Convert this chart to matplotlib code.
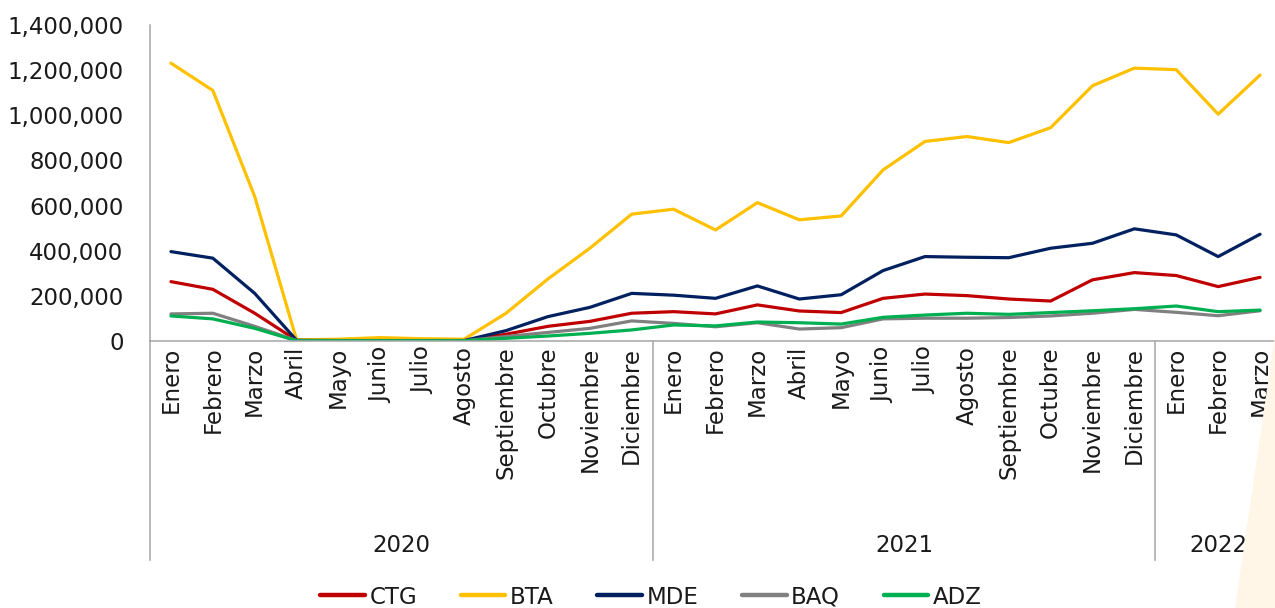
import matplotlib
matplotlib.use("Agg")
import matplotlib.pyplot as plt
from matplotlib.patches import Polygon
from matplotlib.ticker import FuncFormatter
import matplotlib.transforms as mtrans

months = ["Enero", "Febrero", "Marzo", "Abril", "Mayo", "Junio", "Julio", "Agosto",
          "Septiembre", "Octubre", "Noviembre", "Diciembre",
          "Enero", "Febrero", "Marzo", "Abril", "Mayo", "Junio", "Julio", "Agosto",
          "Septiembre", "Octubre", "Noviembre", "Diciembre",
          "Enero", "Febrero", "Marzo"]
years = ["2020", "2021", "2022"]
year_counts = [12, 12, 3]

CTG = [263000, 229000, 123000, 3000, 2000, 2000, 2000, 2000, 30000, 65000, 87000, 123000,
       130000, 120000, 160000, 133000, 126000, 189000, 208000, 201000, 186000, 177000, 271000, 303000,
       290000, 241000, 282000]
BTA = [1231000, 1110000, 640000, 5000, 8000, 15000, 10000, 8000, 123000, 275000, 411000, 562000,
       584000, 492000, 613000, 537000, 554000, 758000, 884000, 906000, 879000, 945000, 1131000, 1209000,
       1202000, 1005000, 1178000]
MDE = [396000, 367000, 211000, 3000, 2000, 2000, 2000, 2000, 46000, 108000, 149000, 211000,
       203000, 189000, 244000, 186000, 205000, 312000, 374000, 371000, 369000, 411000, 433000, 497000,
       470000, 374000, 473000]
BAQ = [120000, 123000, 65000, 2000, 1000, 1000, 1000, 1000, 20000, 38000, 56000, 89000,
       78000, 63000, 81000, 53000, 59000, 98000, 101000, 101000, 104000, 111000, 123000, 140000,
       127000, 112000, 134000]
ADZ = [111000, 98000, 56000, 1000, 1000, 1000, 1000, 1000, 12000, 22000, 34000, 49000,
       71000, 67000, 84000, 81000, 75000, 105000, 115000, 123000, 118000, 126000, 134000, 143000,
       155000, 130000, 137000]

series = [("CTG", CTG, "#C00000"), ("BTA", BTA, "#FFC000"), ("MDE", MDE, "#002060"),
          ("BAQ", BAQ, "#808080"), ("ADZ", ADZ, "#00B050")]

plt.rcParams['font.family'] = ['DejaVu Sans']
FS = 16.5
W, H = 1275, 608
fig = plt.figure(figsize=(W / 100, H / 100), dpi=100)

# faint background decoration bottom right
fig.patches.append(Polygon([[1235 / W, 0], [1275 / W, 0], [1275 / W, 1 - 335 / H]],
                           closed=True, transform=fig.transFigure,
                           facecolor="#FFF6E8", edgecolor="none", zorder=0))

left, right = 150 / W, 1281 / W
bottom, top = 1 - 341 / H, 1 - 25 / H
ax = fig.add_axes([left, bottom, right - left, top - bottom])
ax.set_facecolor("none")

x = list(range(len(months)))
for name, vals, col in series:
    ax.plot(x, vals, color=col, lw=2.3, label=name, solid_capstyle="round", solid_joinstyle="round")

ax.set_xlim(-0.5, len(months) - 0.5)
ax.set_ylim(0, 1400000)
ax.set_yticks(range(0, 1400001, 200000))
ax.yaxis.set_major_formatter(FuncFormatter(lambda v, p: f"{int(v):,}"))
ax.set_xticks(x)
ax.set_xticklabels(months, rotation=90, fontsize=FS, color="#1a1a1a")
ax.tick_params(axis="x", length=0, pad=4)
ax.tick_params(axis="y", length=0, pad=19, labelsize=FS, labelcolor="#1a1a1a")

for s in ["top", "right"]:
    ax.spines[s].set_visible(False)
ax.spines["left"].set_color("#A6A6A6")
ax.spines["bottom"].set_color("#A6A6A6")
ax.spines["left"].set_linewidth(1.1)
ax.spines["bottom"].set_linewidth(1.1)

trans = mtrans.blended_transform_factory(ax.transData, ax.transAxes)
ylow = (341 - 560) / 316.0
bounds = [-0.5]
for c in year_counts:
    bounds.append(bounds[-1] + c)
for b in bounds[:-1]:
    ax.plot([b, b], [0, ylow], color="#A6A6A6", lw=1.1, transform=trans, clip_on=False)
ylab = (341 - 545) / 316.0
for i, yr in enumerate(years):
    ax.text((bounds[i] + bounds[i + 1]) / 2, ylab, yr, transform=trans, ha="center",
            va="center", fontsize=FS, color="#1a1a1a")

leg = fig.legend(loc="center", bbox_to_anchor=(651 / W, 1 - 597 / H), ncol=5, frameon=False,
                 fontsize=FS, handlelength=1.95, columnspacing=1.9, handletextpad=0.2)
for t in leg.get_texts():
    t.set_color("#1a1a1a")
for l in leg.get_lines():
    l.set_linewidth(3.2)

fig.savefig("out.png", dpi=100)
